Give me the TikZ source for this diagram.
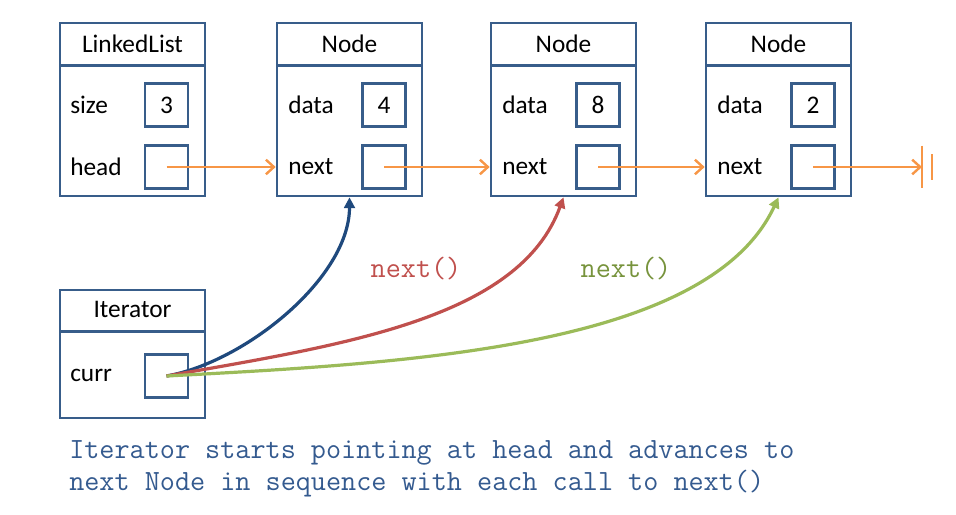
\documentclass[tikz,border=0pt]{standalone}
\usepackage{fontspec}
\setmainfont{Carlito}
\usetikzlibrary{positioning}
\usetikzlibrary{arrows.meta}
\definecolor{boxblue}{HTML}{385D8A}
\definecolor{linkorange}{HTML}{F79646}
\definecolor{callblue}{HTML}{1F497D}
\definecolor{callred}{HTML}{C0504D}
\definecolor{callgreen}{HTML}{9BBB59}
\definecolor{labelgreen}{HTML}{77933C}
\definecolor{notetext}{HTML}{345A8F}

\begin{document}
\begin{tikzpicture}[x=0.75pt, y=-0.75pt, font=\fontsize{19}{22}\selectfont,
    objbox/.style={draw=boxblue, line width=2pt, minimum width=108.75pt, inner sep=0pt},
    titlebox/.style={minimum width=108.75pt, minimum height=32.25pt, inner sep=0pt},
    valbox/.style={draw=boxblue, line width=2pt, minimum size=32.25pt, inner sep=0pt},
    field/.style={anchor=west, inner sep=0pt},
    link/.style={linkorange, line width=1.8pt, -{Straight Barb[length=6pt, width=11pt]}},
    call/.style={line width=2.4pt, -{Triangle[length=8pt, width=8pt]}},
    code/.style={font=\ttfamily\fontsize{22}{24}\selectfont, inner sep=0pt}]
    \useasboundingbox (0,0) rectangle (956,514);

    \node[objbox, minimum height=129.75pt] (ll) at (132.5,109.5) {};
    \node[titlebox, anchor=north] (ll-t) at (ll.north) {LinkedList};
    \draw[boxblue, line width=2pt] (ll-t.south west) -- (ll-t.south east);
    \node[field] (ll-f1) at (70,105) {size};
    \node[valbox] (ll-v1) at (166.5,105) {3};
    \node[field] (ll-f2) at (70,167) {head};
    \node[valbox] (ll-v2) at (166.5,167) {};

    \foreach \n/\x/\d in {n1/349.5/4, n2/563.5/8, n3/778.5/2} {
        \node[objbox, minimum height=129.75pt] (\n) at (\x,109.5) {};
        \node[titlebox, anchor=north] (\n-t) at (\n.north) {Node};
        \draw[boxblue, line width=2pt] (\n-t.south west) -- (\n-t.south east);
        \node[field] (\n-f1) at ({\x-61.5},105) {data};
        \node[valbox] (\n-v1) at ({\x+34.5},105) {\d};
        \node[field] (\n-f2) at ({\x-61.5},167) {next};
        \node[valbox] (\n-v2) at ({\x+34.5},167) {};
    }

    \draw[link] (ll-v2.center) -- (ll-v2.center -| n1.west);
    \draw[link] (n1-v2.center) -- (n1-v2.center -| n2.west);
    \draw[link] (n2-v2.center) -- (n2-v2.center -| n3.west);
    \coordinate (nil) at (922,167);
    \draw[link] (n3-v2.center) -- (nil);
    \draw[linkorange, line width=2pt] ([yshift=16pt]nil) -- ([yshift=-16pt]nil);
    \draw[linkorange, line width=2pt] ([xshift=7.5pt, yshift=9.5pt]nil) -- ([xshift=7.5pt, yshift=-9.5pt]nil);

    \node[objbox, minimum height=96pt] (it) at (132.5,354) {};
    \node[titlebox, minimum height=31.5pt, anchor=north] (it-t) at (it.north) {Iterator};
    \draw[boxblue, line width=2pt] (it-t.south west) -- (it-t.south east);
    \node[field] (it-f1) at (70,375) {curr};
    \node[valbox] (it-v1) at (166.5,376) {};

    \draw[call, callblue] (it-v1.center) to[out=10, in=-90, looseness=0.8] (n1.south);
    \draw[call, callred] (it-v1.center) to[out=10, in=-110, out looseness=1.06, in looseness=0.76] (n2.south);
    \draw[call, callgreen] (it-v1.center) to[out=3, in=-115, out looseness=1, in looseness=0.66] (n3.south);

    \node[code, callred] (lbl1) at (416,269) {next()};
    \node[code, labelgreen] (lbl2) at (626,269) {next()};

    \node[code, notetext, anchor=west, align=left] (note) at (69,469)
        {Iterator starts pointing at head and advances to\\next Node in sequence with each call to next()};
\end{tikzpicture}
\end{document}
